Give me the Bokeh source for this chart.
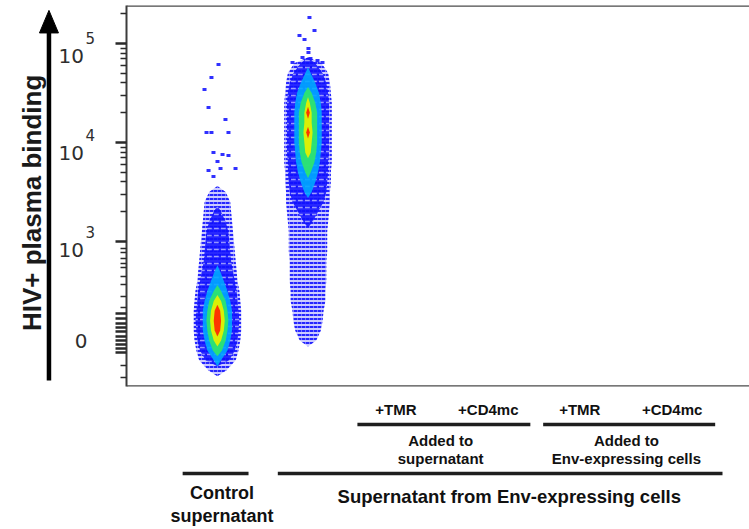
import math
from bokeh.plotting import figure
from bokeh.layouts import column, row
from bokeh.models import Range1d, Span, FixedTicker, CustomJSTickFormatter
from bokeh.core.properties import value
from bokeh.embed import file_html
from bokeh.resources import INLINE

# ---------------- data ----------------
# y is in biexponential display units: 0 -> 0, 10^3 -> 1, 10^4 -> 2, 10^5 -> 3
# x is the sample lane (0 = control supernatant, 1 = supernatant from Env cells,
# 2..5 = treated samples, no events drawn)
tick_vals = [0, 1, 2, 3]
tick_base = ["0", "10", "10", "10"]
tick_exp = ["", "3", "4", "5"]

levels = ["sparse", "low", "mid", "high", "higher", "peak"]
level_colors = ["#2a2aff", "#1010ff", "#00a8ff", "#30e868", "#e4f000", "#ff2a00"]
level_alpha = [0.25, 0.88, 0.9, 0.9, 0.95, 0.95]

# control supernatant: density envelope half-widths (hundredths of a lane) per row
c1_lane = 0.01
c1_y = [-0.3, -0.2, -0.1, 0.0, 0.1, 0.2, 0.3, 0.4, 0.5, 0.6, 0.7, 0.8, 0.9, 1.0, 1.1, 1.2, 1.3, 1.4, 1.5]
c1_sparse = [10, 20, 23, 25, 26, 26, 26, 25, 24, 22, 21, 20, 19, 18, 17, 16, 15, 14, 9]
c1_low = [0, 13, 19, 22, 23, 24, 23, 22, 21, 19, 17, 15, 14, 13, 12, 9, 4, 0, 0]
c1_mid = [0, 4, 11, 14, 16, 16, 16, 14, 11, 7, 3, 0, 0, 0, 0, 0, 0, 0, 0]
c1_high = [0, 0, 5, 9, 11, 12, 11, 9, 4, 0, 0, 0, 0, 0, 0, 0, 0, 0, 0]
c1_higher = [0, 0, 0, 4, 7, 8, 7, 4, 0, 0, 0, 0, 0, 0, 0, 0, 0, 0, 0]
c1_peak = [0, 0, 0, 0, 3, 4, 3, 0, 0, 0, 0, 0, 0, 0, 0, 0, 0, 0, 0]

# supernatant from Env-expressing cells
c2_lane = 1.0
c2_y = [0.0, 0.1, 0.2, 0.3, 0.4, 0.5, 0.6, 0.7, 0.8, 0.9, 1.0, 1.1, 1.2, 1.3, 1.4,
        1.5, 1.6, 1.7, 1.8, 1.9, 2.0, 2.1, 2.2, 2.3, 2.4, 2.5, 2.6, 2.7, 2.8]
c2_sparse = [9, 14, 16, 17, 19, 19, 20, 20, 20, 21, 21, 21, 22, 23, 24,
             24, 25, 25, 26, 26, 26, 26, 26, 26, 26, 25, 24, 22, 15]
c2_low = [0, 0, 0, 0, 0, 0, 0, 0, 0, 0, 0, 0, 5, 11, 17,
          20, 21, 22, 22, 23, 23, 23, 23, 23, 23, 22, 20, 16, 8]
c2_mid = [0, 0, 0, 0, 0, 0, 0, 0, 0, 0, 0, 0, 0, 0, 0,
          4, 8, 11, 13, 14, 15, 15, 15, 15, 14, 12, 8, 3, 0]
c2_high = [0, 0, 0, 0, 0, 0, 0, 0, 0, 0, 0, 0, 0, 0, 0,
           0, 0, 3, 7, 9, 10, 10, 10, 10, 8, 4, 0, 0, 0]
c2_higher = [0, 0, 0, 0, 0, 0, 0, 0, 0, 0, 0, 0, 0, 0, 0,
             0, 0, 0, 0, 3, 4, 5, 4, 4, 2, 0, 0, 0, 0]
c2_peak = [0, 0, 0, 0, 0, 0, 0, 0, 0, 0, 0, 0, 0, 0, 0,
           0, 0, 0, 0, 0, 0, 2, 0, 2, 0, 0, 0, 0, 0]

# isolated events above the populations
out_x = [0.022, -0.055, -0.131, -0.087, 0.098, -0.109, -0.055, 0.131, -0.033, 0.066,
         0.131, 0.011, 0.044, 0.208, -0.087, -0.033,
         1.016, 1.071, 0.907, 0.962, 1.005, 1.005, 0.940, 0.831, 1.027, 1.104, 1.158]
out_y = [2.788, 2.657, 2.535, 2.354, 2.232, 2.101, 2.101, 2.101, 1.899, 1.879,
         1.869, 1.808, 1.737, 1.737, 1.717, 1.657,
         3.263, 3.131, 3.081, 3.040, 2.949, 2.909, 2.859, 2.808, 2.848, 2.828, 2.808]

treat_labels = ["+TMR", "+CD4mc", "+TMR", "+CD4mc"]
treat_x = [1.96, 2.97, 3.97, 4.98]
group_top = ["Added to", "Added to"]
group_bottom = ["supernatant", "Env-expressing cells"]
group_x = [2.45, 4.48]
group_x0 = [1.54, 3.57]
group_x1 = [3.43, 5.45]
main_top = ["Control", "Supernatant from Env-expressing cells"]
main_bottom = ["supernatant", ""]
main_x = [0.06, 3.2]
main_x0 = [-0.37, 0.67]
main_x1 = [0.35, 5.53]

AXIS_LABEL = "HIV+ plasma binding"

# ---------------- layout sizes ----------------
TOTAL_W = 749
LEFT_W = 102
TOP_H = 388
BOTTOM_H = 141
X_LEFT_EDGE = -2.3607     # data x at the left page edge
X_SPLIT = -1.2459         # data x where the left strip ends
X_FRAME_LEFT = -0.9836
X_RIGHT_EDGE = 5.8251
Y_TOP_EDGE = 3.4343       # display units at top of the page
Y_FRAME_TOP = 3.3838
Y_FRAME_BOTTOM = -0.4646
Y_ROW_EDGE = -0.4848      # display units at the bottom of the plot row
Y_BOTTOM_EDGE = -1.9091


def blank(fig):
    fig.min_border = 0
    fig.outline_line_color = None
    fig.grid.visible = False
    fig.background_fill_color = "white"
    fig.border_fill_color = "white"


# ---------------- main plot ----------------
p = figure(width=TOTAL_W - LEFT_W, height=TOP_H, output_backend="svg", toolbar_location=None,
           x_range=Range1d(X_FRAME_LEFT, X_RIGHT_EDGE), y_range=Range1d(Y_FRAME_BOTTOM, Y_FRAME_TOP),
           x_axis_location=None, y_axis_location="left")
blank(p)
p.min_border_left = 24
p.min_border_top = 5
p.min_border_bottom = 2
p.min_border_right = 0

major = [-0.121, -0.081, -0.040, 0.0, 0.040, 0.091, 0.131, 0.172, 0.222, 0.273, 1, 2, 3]
minor = [0.932, 0.886, 0.831, 0.781, 0.734, 0.646, 0.563, 0.444, 0.330, -0.253, -0.371]
for n in (1, 2):
    for k in range(2, 10):
        minor.append(n + math.log10(k))
minor.append(3 + math.log10(2))

ax = p.yaxis[0]
ax.ticker = FixedTicker(ticks=major, minor_ticks=minor)
ax.formatter = CustomJSTickFormatter(code="return ''")
ax.major_label_standoff = 0
ax.axis_line_color = "#3c3c3c"
ax.axis_line_width = 2
ax.major_tick_line_color = "#2a2a2a"
ax.major_tick_line_width = 2.5
ax.major_tick_out = 11
ax.major_tick_in = 0
ax.minor_tick_line_color = "#2a2a2a"
ax.minor_tick_line_width = 1.5
ax.minor_tick_out = 6
ax.minor_tick_in = 0

for loc in (Y_FRAME_TOP, Y_FRAME_BOTTOM):
    p.add_layout(Span(location=loc, dimension="width", line_color="#4a4a4a", line_width=2.5))


def envelopes(cx, ys, ws):
    step = ys[1] - ys[0]
    pxs, pys = [], []
    i, n = 0, len(ys)
    while i < n:
        if ws[i] > 0:
            j = i
            while j + 1 < n and ws[j + 1] > 0:
                j += 1
            seg = list(range(i, j + 1))
            xs = [cx] + [cx + ws[k] / 100 for k in seg] + [cx] + [cx - ws[k] / 100 for k in reversed(seg)]
            yy = [ys[i] - 0.6 * step] + [ys[k] for k in seg] + [ys[j] + 0.6 * step] + [ys[k] for k in reversed(seg)]
            pxs.append(xs)
            pys.append(yy)
            i = j + 1
        else:
            i += 1
    return pxs, pys


c1_levels = [c1_sparse, c1_low, c1_mid, c1_high, c1_higher, c1_peak]
c2_levels = [c2_sparse, c2_low, c2_mid, c2_high, c2_higher, c2_peak]
for li in range(len(levels)):
    xs1, ys1 = envelopes(c1_lane, c1_y, c1_levels[li])
    xs2, ys2 = envelopes(c2_lane, c2_y, c2_levels[li])
    if li == 0:
        p.patches(xs1 + xs2, ys1 + ys2, fill_color=level_colors[li], fill_alpha=level_alpha[li],
                  line_color=None, hatch_pattern="horizontal_dash", hatch_color="#1414ff",
                  hatch_scale=4, hatch_weight=2, hatch_alpha=0.9)
    elif li == 1:
        p.patches(xs1 + xs2, ys1 + ys2, fill_color=level_colors[li], fill_alpha=level_alpha[li],
                  line_color=None, hatch_pattern="horizontal_dash", hatch_color="white",
                  hatch_scale=7, hatch_weight=1.5, hatch_alpha=0.55)
    else:
        p.patches(xs1 + xs2, ys1 + ys2, fill_color=level_colors[li], fill_alpha=level_alpha[li],
                  line_color=None)

p.rect(out_x, out_y, width=4, height=3, width_units="screen", height_units="screen",
       fill_color="#1a1aff", line_color=None, fill_alpha=0.9)

# ---------------- left strip: axis title, arrow, tick labels ----------------
lf = figure(width=LEFT_W, height=TOP_H, output_backend="svg", toolbar_location=None,
            x_range=Range1d(X_LEFT_EDGE, X_SPLIT), y_range=Range1d(Y_ROW_EDGE, Y_TOP_EDGE),
            x_axis_location=None, y_axis_location=None)
blank(lf)

lab_font = value("DejaVu Sans")
zero_v = [v for v, e in zip(tick_vals, tick_exp) if e == ""]
zero_t = [b for b, e in zip(tick_base, tick_exp) if e == ""]
dec_v = [v for v, e in zip(tick_vals, tick_exp) if e != ""]
dec_t = [b for b, e in zip(tick_base, tick_exp) if e != ""]
dec_e = [e for e in tick_exp if e != ""]
lf.text(x=[-1.479] * len(zero_v), y=[v - 0.015 for v in zero_v], text=zero_t,
        text_align="center", text_baseline="middle", text_font=lab_font,
        text_font_size="20px", text_color="#2e2e2e")
lf.text(x=[-1.448] * len(dec_v), y=[v - 0.083 for v in dec_v], text=dec_t,
        text_align="right", text_baseline="middle", text_font=lab_font,
        text_font_size="20px", text_color="#2e2e2e")
lf.text(x=[-1.433] * len(dec_v), y=[v + 0.102 for v in dec_v], text=dec_e,
        text_align="left", text_baseline="middle", text_font=lab_font,
        text_font_size="15px", text_color="#2e2e2e")

lf.text(x=[-2.016], y=[1.404], text=[AXIS_LABEL], angle=math.pi / 2,
        text_align="center", text_baseline="middle",
        text_font=value("Liberation Sans"), text_font_style="bold",
        text_font_size="26px", text_color="#1a1a1a")

arrow_x, arrow_y0, arrow_tip = -1.831, -0.424, 3.384
head_len, head_half = 0.232, 0.1038
lf.segment(x0=[arrow_x], y0=[arrow_y0], x1=[arrow_x], y1=[arrow_tip - head_len + 0.02],
           line_width=4.5, line_color="black")
lf.patch(x=[arrow_x - head_half, arrow_x, arrow_x + head_half],
         y=[arrow_tip - head_len, arrow_tip, arrow_tip - head_len],
         fill_color="black", line_color="black", line_width=1)

# ---------------- bottom strip: sample annotation ----------------
bf = figure(width=TOTAL_W, height=BOTTOM_H, output_backend="svg", toolbar_location=None,
            x_range=Range1d(X_LEFT_EDGE, X_RIGHT_EDGE), y_range=Range1d(Y_BOTTOM_EDGE, Y_ROW_EDGE),
            x_axis_location=None, y_axis_location=None)
blank(bf)

bold = dict(text_align="center", text_baseline="middle", text_font=value("Liberation Sans"),
            text_font_style="bold", text_color="#111111")
bf.text(x=treat_x, y=[-0.697] * len(treat_x), text=treat_labels, text_font_size="15px", **bold)
bf.segment(x0=group_x0, y0=[-0.848] * 2, x1=group_x1, y1=[-0.848] * 2,
           line_width=3.5, line_color="#1e1e1e")
bf.text(x=group_x, y=[-1.010] * 2, text=group_top, text_font_size="15px", **bold)
bf.text(x=group_x, y=[-1.192] * 2, text=group_bottom, text_font_size="15px", **bold)
bf.segment(x0=main_x0, y0=[-1.343] * 2, x1=main_x1, y1=[-1.343] * 2,
           line_width=3.5, line_color="#1e1e1e")
bf.text(x=[main_x[0]], y=[-1.545], text=[main_top[0]], text_font_size="18px", **bold)
bf.text(x=[main_x[0]], y=[-1.772], text=[main_bottom[0]], text_font_size="18px", **bold)
bf.text(x=[main_x[1]], y=[-1.576], text=[main_top[1]], text_font_size="18.5px", **bold)

layout = column(row(lf, p, spacing=0), bf, spacing=0)
open("out.html", "w").write(file_html(layout, INLINE))
